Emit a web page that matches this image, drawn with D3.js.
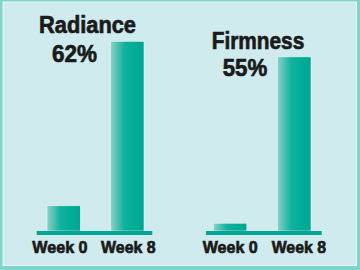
<!DOCTYPE html>
<html>
<head>
<meta charset="utf-8">
<script src="https://cdn.jsdelivr.net/npm/d3@7"></script>
<style>
  body { margin: 0; background: #fff; }
  svg { display: block; }
  text { font-family: "Liberation Sans", Arial, sans-serif; font-weight: bold; fill: #1a1a1a; stroke: #1a1a1a; stroke-width: 0.7px; }
</style>
</head>
<body>
<div id="chart"></div>
<script>
// Data
let weeks = ["Week 0", "Week 8"];
let radianceValues = [13.3, 100];
let firmnessValues = [4.1, 91.8];
let titles = ["Radiance", "Firmness"];
let percents = ["62%", "55%"];

let W = 360, H = 270;

let svg = d3.select("#chart")
  .append("svg")
  .attr("width", W)
  .attr("height", H);

// background + border
svg.append("rect")
  .attr("x", 0).attr("y", 0)
  .attr("width", W).attr("height", H)
  .attr("fill", "#7fd4cb");
svg.append("rect")
  .attr("x", 2.5).attr("y", 1.5)
  .attr("width", W - 5.5).attr("height", H - 5.5)
  .attr("fill", "#e8f7f7");
svg.append("rect")
  .attr("x", 3.5).attr("y", 2.5)
  .attr("width", W - 7.5).attr("height", H - 7.5)
  .attr("fill", "#cfebee");

// bar gradient
let grad = svg.append("defs").append("linearGradient")
  .attr("id", "barGrad")
  .attr("x1", "0%").attr("x2", "100%")
  .attr("y1", "0%").attr("y2", "0%");
grad.append("stop").attr("offset", "0%").attr("stop-color", "#8ad2c6");
grad.append("stop").attr("offset", "40%").attr("stop-color", "#12b29d");
grad.append("stop").attr("offset", "70%").attr("stop-color", "#00ad98");
grad.append("stop").attr("offset", "100%").attr("stop-color", "#00a590");

let y = d3.scaleLinear()
  .domain([0, 100])
  .range([231, 41.3]);

// layout of the two panels
let panels = [
  { values: radianceValues, range: [47, 144], lineX: [36.7, 152.3],
    title: titles[0], pct: percents[0],
    titleBox: [39, 32.7, 97], pctBox: [52, 61.7, 45],
    labelBoxes: [[32.3, 55.3], [101, 54.7]] },
  { values: firmnessValues, range: [213.3, 311], lineX: [206, 321.7],
    title: titles[1], pct: percents[1],
    titleBox: [211.7, 48.7, 92.6], pctBox: [222.7, 76, 44.6],
    labelBoxes: [[202.7, 55], [271.7, 54.3]] }
];

panels.forEach(p => {
  let x = d3.scaleBand()
    .domain(weeks)
    .range(p.range)
    .paddingInner(0.477)
    .paddingOuter(0);

  let g = svg.append("g");

  g.selectAll(".bar")
    .data(p.values)
    .enter()
    .append("rect")
    .attr("x", (d, i) => x(weeks[i]))
    .attr("y", d => y(d))
    .attr("width", x.bandwidth())
    .attr("height", d => y(0) - y(d))
    .attr("fill", "url(#barGrad)")
    .attr("stroke", "#e6f6f4")
    .attr("stroke-width", 0.6);

  // baseline
  g.append("rect")
    .attr("x", p.lineX[0])
    .attr("y", y(0))
    .attr("width", p.lineX[1] - p.lineX[0])
    .attr("height", 4)
    .attr("fill", "#00a693");

  // week labels
  g.selectAll(".wk")
    .data(weeks)
    .enter()
    .append("text")
    .attr("x", (d, i) => p.labelBoxes[i][0])
    .attr("y", 252.7)
    .attr("font-size", "17.3px")
    .attr("textLength", (d, i) => p.labelBoxes[i][1])
    .attr("lengthAdjust", "spacingAndGlyphs")
    .text(d => d);

  g.append("text")
    .attr("x", p.titleBox[0])
    .attr("y", p.titleBox[1])
    .attr("font-size", "24.7px")
    .attr("textLength", p.titleBox[2])
    .attr("lengthAdjust", "spacingAndGlyphs")
    .text(p.title);

  g.append("text")
    .attr("x", p.pctBox[0])
    .attr("y", p.pctBox[1])
    .attr("font-size", "24.7px")
    .attr("textLength", p.pctBox[2])
    .attr("lengthAdjust", "spacingAndGlyphs")
    .text(p.pct);
});
</script>
</body>
</html>
